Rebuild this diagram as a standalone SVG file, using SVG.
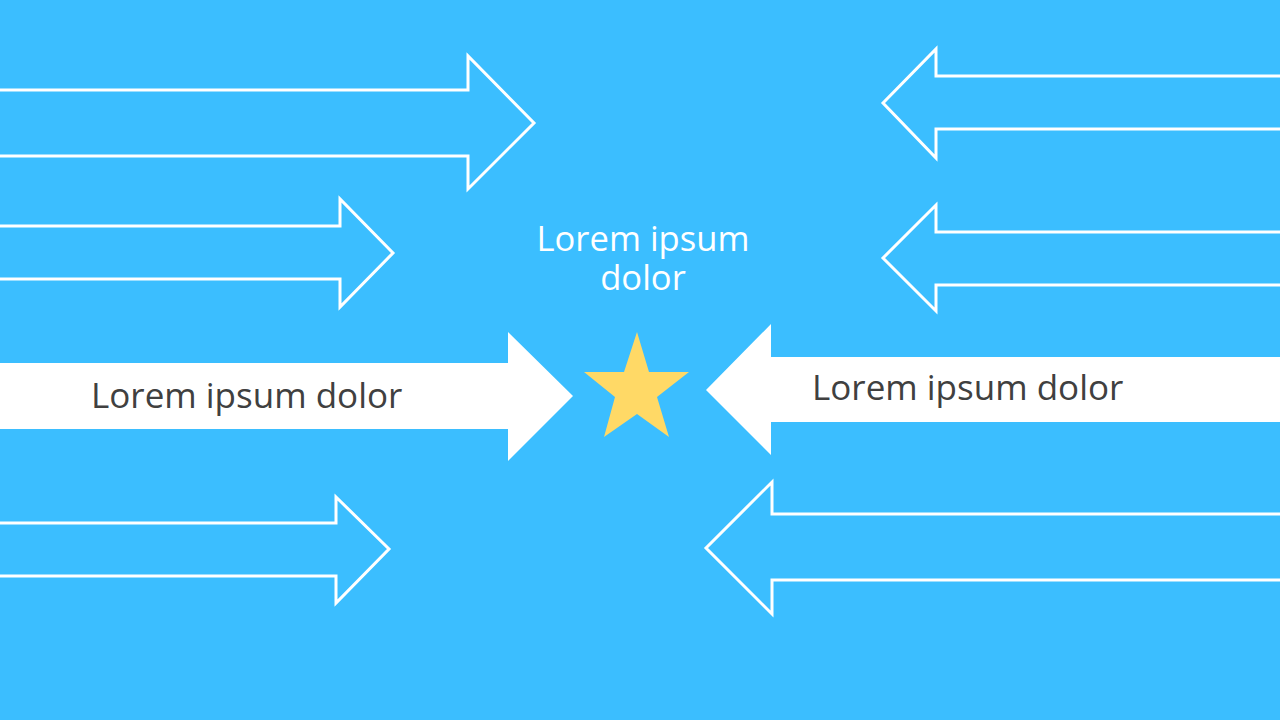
<svg xmlns="http://www.w3.org/2000/svg" width="1280" height="720" viewBox="0 0 1280 720">
<style>
.out{fill:none;stroke:#FFFFFF;stroke-width:3;stroke-linejoin:miter}
.sol{fill:#FFFFFF;stroke:none}
.lbl{font-family:"Open Sans","Noto Sans",sans-serif;font-size:35px;fill:#404040}
.ctr{font-family:"Open Sans","Noto Sans",sans-serif;font-size:34.6px;fill:#FFFFFF;text-anchor:middle}
</style>
<rect x="0" y="0" width="1280" height="720" fill="#3BBEFF"/>
<g id="connectors">
<polygon id="arrow-l1" class="out" points="-10,90 468,90 468,56 534,123 468,189 468,156 -10,156"/>
<polygon id="arrow-l2" class="out" points="-10,226 340,226 340,199 393,253 340,307 340,279 -10,279"/>
<polygon id="arrow-l4" class="out" points="-10,523 336,523 336,497 389,549 336,603 336,576 -10,576"/>
<polygon id="arrow-r1" class="out" points="1290,76 936,76 936,49 883,103 936,158 936,129 1290,129"/>
<polygon id="arrow-r2" class="out" points="1290,232 936,232 936,205 883,258 936,311 936,285 1290,285"/>
<polygon id="arrow-r4" class="out" points="1290,514 772,514 772,482 706,548 772,614 772,580 1290,580"/>
</g>
<g id="arrow-left-main">
<polygon class="sol" points="0,363 508,363 508,332 573,396 508,461 508,429 0,429"/>
<text class="lbl" x="91" y="408">Lorem ipsum dolor</text>
</g>
<g id="arrow-right-main">
<polygon class="sol" points="1280,357 771,357 771,324 706,390 771,455 771,422 1280,422"/>
<text class="lbl" x="812" y="400">Lorem ipsum dolor</text>
</g>
<g id="star">
<polygon fill="#FFD966" points="637,332 649,372 689,372 657,397 669,437 637,414 604,437 615,397 584,372 624,372"/>
</g>
<g id="center-label">
<text class="ctr" x="643" y="251"><tspan x="643" y="251">Lorem ipsum</tspan><tspan x="643" y="290">dolor</tspan></text>
</g>
</svg>
